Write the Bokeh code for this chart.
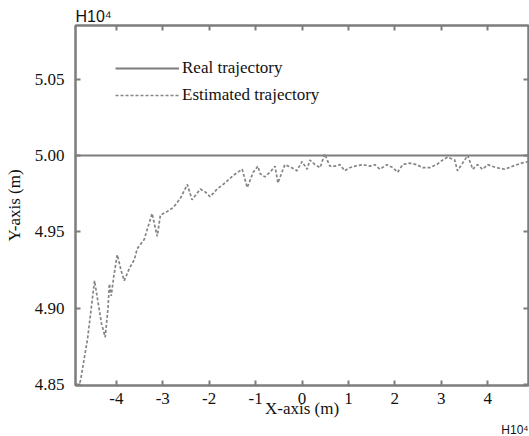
from bokeh.plotting import figure
from bokeh.models import LinearAxis, Legend, LegendItem, FixedTicker, Range1d, Title
from bokeh.embed import file_html
from bokeh.resources import INLINE

# ---- data (units of 1e4 m) ----
real_x = [-4.88, 4.88]
real_y = [5.00, 5.00]

est_x = [-4.85, -4.77, -4.62, -4.47, -4.40, -4.32, -4.24, -4.18, -4.15, -4.11,
         -4.05, -3.98, -3.90, -3.83, -3.72, -3.61, -3.55, -3.40, -3.33, -3.23,
         -3.12, -3.05, -2.92, -2.77, -2.62, -2.47, -2.37, -2.19, -2.08, -1.98,
         -1.83, -1.66, -1.48, -1.29, -1.18, -1.05, -0.95, -0.90, -0.80, -0.69,
         -0.58, -0.52, -0.37, -0.22, -0.11, 0.00, 0.11, 0.17, 0.28, 0.39,
         0.49, 0.60, 0.71, 0.82, 0.92, 1.03, 1.14, 1.31, 1.46, 1.57,
         1.68, 1.83, 1.96, 2.06, 2.17, 2.32, 2.47, 2.60, 2.75, 2.90,
         3.03, 3.14, 3.29, 3.35, 3.46, 3.57, 3.68, 3.78, 3.89, 4.00,
         4.19, 4.37, 4.54, 4.73, 4.88]
est_y = [4.845, 4.853, 4.880, 4.918, 4.905, 4.890, 4.881, 4.900, 4.916, 4.908,
         4.922, 4.935, 4.925, 4.918, 4.926, 4.932, 4.939, 4.945, 4.952, 4.962,
         4.947, 4.961, 4.963, 4.966, 4.972, 4.981, 4.971, 4.978, 4.976, 4.973,
         4.978, 4.982, 4.987, 4.991, 4.979, 4.989, 4.993, 4.988, 4.986, 4.989,
         4.993, 4.982, 4.994, 4.992, 4.990, 4.996, 4.991, 4.997, 4.994, 4.992,
         5.001, 4.993, 4.993, 4.994, 4.990, 4.992, 4.993, 4.994, 4.993, 4.994,
         4.991, 4.994, 4.992, 4.989, 4.994, 4.995, 4.994, 4.992, 4.992, 4.994,
         4.997, 4.999, 4.997, 4.990, 4.995, 5.000, 4.991, 4.994, 4.991, 4.994,
         4.992, 4.991, 4.993, 4.995, 4.996]

x_ticks = [-4, -3, -2, -1, 0, 1, 2, 3, 4]
x_tick_labels = {-4: "-4", -3: "-3", -2: "-2", -1: "-1", 0: "0", 1: "1", 2: "2", 3: "3", 4: "4"}
y_ticks = [4.85, 4.90, 4.95, 5.00, 5.05]
y_tick_labels = {4.85: "4.85", 4.90: "4.90", 4.95: "4.95", 5.00: "5.00", 5.05: "5.05"}

series_names = ["Real trajectory", "Estimated trajectory"]
x_title = "X-axis (m)"
y_title = "Y-axis (m)"
multiplier = "H10\u2074"

GREY = "#7d7d7d"
SERIF = "Liberation Serif"
SANS = "Liberation Sans"

p = figure(width=529, height=436, output_backend="svg", toolbar_location=None,
           x_range=Range1d(-4.88, 4.88), y_range=Range1d(4.8494, 5.0851),
           x_axis_location=None, y_axis_location=None,
           min_border_left=75, min_border_right=1, min_border_top=25, min_border_bottom=30)
p.grid.visible = False
p.outline_line_color = GREY
p.outline_line_width = 2
p.background_fill_color = "white"
p.border_fill_color = "white"

def make_axis(ticks, labels=True, overrides=None):
    ax = LinearAxis(ticker=FixedTicker(ticks=ticks))
    ax.axis_line_color = GREY
    ax.axis_line_width = 2
    ax.major_tick_line_color = GREY
    ax.major_tick_line_width = 2
    ax.major_tick_in = 5
    ax.major_tick_out = 0
    ax.minor_tick_line_color = None
    if labels:
        ax.major_label_text_font = SERIF
        ax.major_label_text_font_size = "17px"
        ax.major_label_text_color = "#111111"
        ax.major_label_overrides = overrides
    else:
        ax.major_label_overrides = {t: "" for t in ticks}
        ax.major_label_text_font_size = "1px"
        ax.major_label_standoff = 0
    return ax

bottom = make_axis(x_ticks, overrides=x_tick_labels)
bottom.major_label_standoff = 7
bottom.axis_label = x_title
bottom.axis_label_text_font = SERIF
bottom.axis_label_text_font_style = "normal"
bottom.axis_label_text_font_size = "17px"
bottom.axis_label_text_color = "#111111"
bottom.axis_label_standoff = -8

left = make_axis(y_ticks, overrides=y_tick_labels)
left.major_label_standoff = 11
left.axis_label = y_title
left.axis_label_text_font = SERIF
left.axis_label_text_font_style = "normal"
left.axis_label_text_font_size = "17px"
left.axis_label_text_color = "#111111"
left.axis_label_standoff = 8

top = make_axis(x_ticks, labels=False)
right = make_axis(y_ticks, labels=False)
p.add_layout(bottom, "below")
p.add_layout(left, "left")
p.add_layout(top, "above")
p.add_layout(right, "right")

r_real = p.line(real_x, real_y, line_color=GREY, line_width=2.2)
r_est = p.line(est_x, est_y, line_color="#858585", line_width=1.7, line_dash="3 2")

legend = Legend(items=[LegendItem(label=series_names[0], renderers=[r_real]),
                       LegendItem(label=series_names[1], renderers=[r_est])],
                location=(40, 280))
legend.background_fill_alpha = 0
legend.border_line_color = None
legend.label_text_font = SERIF
legend.label_text_font_size = "17px"
legend.label_text_color = "#111111"
legend.glyph_width = 64
legend.glyph_height = 20
legend.label_height = 20
legend.label_standoff = 3
legend.spacing = 7
legend.padding = 0
legend.margin = 0
p.add_layout(legend, "center")

# multipliers
t_top = Title(text=multiplier, align="left", text_font=SANS, text_font_size="16px",
              text_font_style="normal", text_color="#111111", standoff=2, offset=0)
p.add_layout(t_top, "above")
t_bot = Title(text=multiplier, align="right", text_font=SANS, text_font_size="12px",
              text_font_style="normal", text_color="#111111", standoff=0, offset=0)
p.add_layout(t_bot, "below")

open("out.html", "w").write(file_html(p, INLINE))
